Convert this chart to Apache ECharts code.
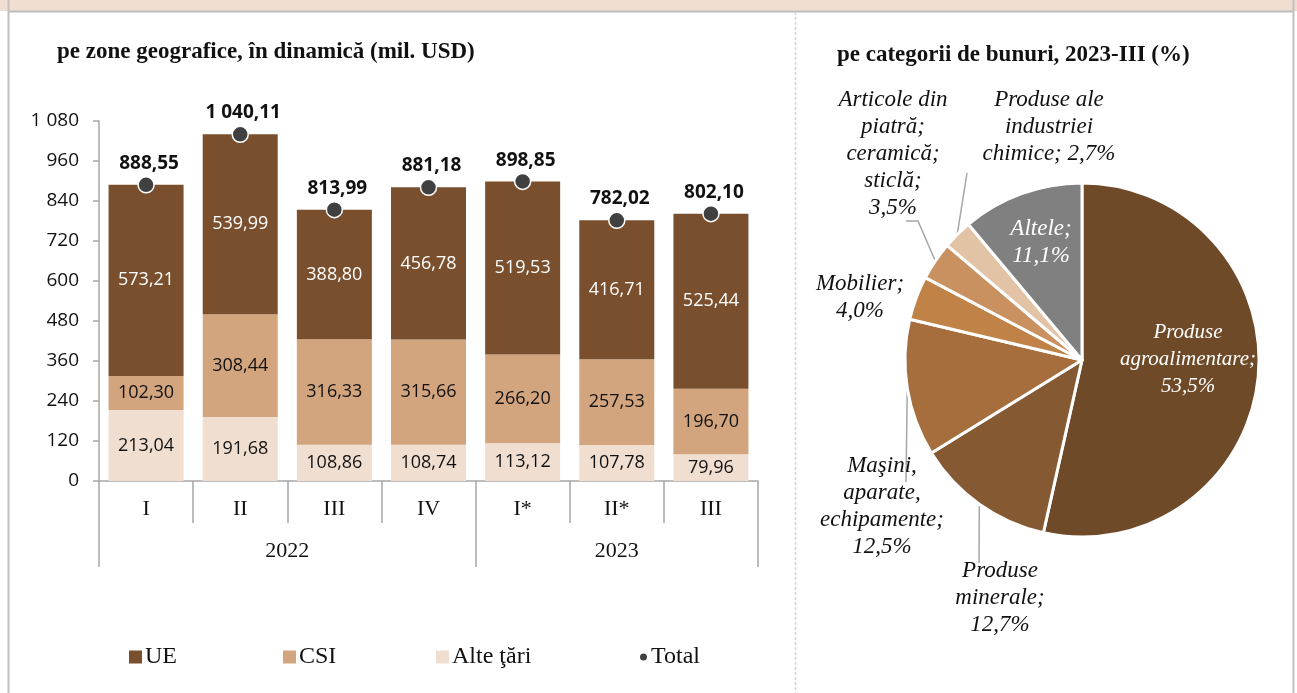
<!DOCTYPE html>
<html><head><meta charset="utf-8">
<script src="https://cdn.jsdelivr.net/npm/echarts@6/dist/echarts.min.js"></script>
<style>html,body{margin:0;padding:0;background:#fff}#c{width:1297px;height:693px}</style>
</head><body><div id="c"></div>
<script>
// ---- data ----
const categories = ['I', 'II', 'III', 'IV', 'I*', 'II*', 'III'];
const yearLabels = ['2022', '2023'];
const yearSpans = [4, 3];
const ueValues = [573.21, 539.99, 388.80, 456.78, 519.53, 416.71, 525.44];
const csiValues = [102.30, 308.44, 316.33, 315.66, 266.20, 257.53, 196.70];
const alteValues = [213.04, 191.68, 108.86, 108.74, 113.12, 107.78, 79.96];
const totalValues = [888.55, 1040.11, 813.99, 881.18, 898.85, 782.02, 802.10];
const yTicks = [0, 120, 240, 360, 480, 600, 720, 840, 960, 1080];

const pieNames = ['Produse\nagroalimentare', 'Produse\nminerale', 'Maşini,\naparate,\nechipamente', 'Mobilier', 'Articole din\npiatră;\nceramică;\nsticlă', 'Produse ale\nindustriei\nchimice', 'Altele'];
const pieValues = [53.5, 12.7, 12.5, 4.0, 3.5, 2.7, 11.1];

// ---- styles / layout ----
const barColors = { ue: '#7a4f2d', csi: '#d2a57e', alte: '#f0dfd1' };
const pieColors = ['#6e4a28', '#855a32', '#a56e3c', '#c08246', '#c8915f', '#e2c3a5', '#808080'];
const pieInside = [true, false, false, false, false, false, true];
const pieFontSize = [21, 23, 23, 23, 23, 23, 23];
const pieSep = ['\n', '\n', '\n', '\n', '\n', ' ', '\n'];
const pieLabelPos = [[1188, 359], [1000, 598], [882, 506], [860, 297], [893, 154], [1049, 127], [1041, 242]];
// leader-line bend/end points (null = no leader line)
const pieLineTail = [null, [[979, 563], [979, 563]], [[906, 482], [906, 482]], null, [[918, 221], [906, 221]], [[967, 173], [967, 173]], null];
const PIE_CENTER = [1082, 360];
const PIE_R = 177;

const SERIF = '"Liberation Serif", serif';
const NUM = '"Open Sans", sans-serif';

function fmt(v) {
  const s = v.toFixed(2).split('.');
  return s[0].replace(/\B(?=(\d{3})+(?!\d))/g, ' ') + ',' + s[1];
}
function fmtInt(v) { return String(v).replace(/\B(?=(\d{3})+(?!\d))/g, ' '); }
function fmtPct(v) { return v.toFixed(1).replace('.', ','); }

const bounds = [0];
yearSpans.forEach(s => bounds.push(bounds[bounds.length - 1] + s));
const centers = yearSpans.map((s, i) => bounds[i] + s / 2);

// mid-angle anchor on the pie edge for each slice
const pieSum = pieValues.reduce((a, b) => a + b, 0);
const pieAnchors = [];
(function () {
  let acc = 0;
  pieValues.forEach(v => {
    const mid = (acc + v / 2) / pieSum;
    const ang = (90 - mid * 360) * Math.PI / 180;
    pieAnchors.push([PIE_CENTER[0] + PIE_R * Math.cos(ang), PIE_CENTER[1] - PIE_R * Math.sin(ang)]);
    acc += v;
  });
})();

const chart = echarts.init(document.getElementById('c'), null, { renderer: 'canvas' });

const pieData = pieNames.map((n, i) => ({
  name: n, value: pieValues[i],
  itemStyle: { color: pieColors[i] },
  label: pieInside[i] ? { position: 'inside', color: '#ffffff', fontSize: pieFontSize[i] } : { position: 'outside', color: '#111', fontSize: pieFontSize[i] },
  labelLine: { show: !!pieLineTail[i] }
}));

const legendBase = (left, name, icon, w, h) => ({
  left: left, top: 645, icon: icon, itemWidth: w, itemHeight: h, itemGap: 0, padding: 0,
  data: [name], selectedMode: false,
  textStyle: { fontFamily: SERIF, fontSize: 24, color: '#111', padding: [0, 0, 0, -2] }
});

chart.setOption({
  animation: false,
  backgroundColor: '#ffffff',
  graphic: [
    { type: 'rect', shape: { x: 0, y: 0, width: 1297, height: 11 }, style: { fill: '#f0dfd0' }, silent: true },
    { type: 'line', shape: { x1: 8, y1: 11.5, x2: 1293, y2: 11.5 }, style: { stroke: '#bdbdbd', lineWidth: 2 }, silent: true },
    { type: 'line', shape: { x1: 8.5, y1: 0, x2: 8.5, y2: 693 }, style: { stroke: '#c0c0c0', lineWidth: 2 }, silent: true },
    { type: 'line', shape: { x1: 1293.5, y1: 0, x2: 1293.5, y2: 693 }, style: { stroke: '#c0c0c0', lineWidth: 2 }, silent: true },
    { type: 'line', shape: { x1: 795.5, y1: 12, x2: 795.5, y2: 693 }, style: { stroke: '#d4d4d4', lineWidth: 1.5, lineDash: [3, 2] }, silent: true }
  ],
  title: [
    { text: 'pe zone geografice, în dinamică (mil. USD)', left: 52, top: 36,
      textStyle: { fontFamily: SERIF, fontWeight: 'bold', fontSize: 23, color: '#111' } },
    { text: 'pe categorii de bunuri, 2023-III (%)', left: 832, top: 39,
      textStyle: { fontFamily: SERIF, fontWeight: 'bold', fontSize: 23, color: '#111' } }
  ],
  legend: [
    legendBase(129, 'UE', 'rect', 13, 13),
    legendBase(283, 'CSI', 'rect', 13, 13),
    legendBase(436, 'Alte ţări', 'rect', 13, 13),
    legendBase(638, 'Total', 'circle', 9, 9)
  ],
  grid: { left: 99, right: 539, top: 121, bottom: 212, containLabel: false },
  xAxis: [
    { type: 'category', data: categories, position: 'bottom',
      axisLine: { show: true, lineStyle: { color: '#a6a6a6', width: 1.5 } },
      axisTick: { show: true, interval: 0, length: 42, lineStyle: { color: '#a6a6a6', width: 1.5 } },
      axisLabel: { interval: 0, margin: 17, fontFamily: SERIF, fontSize: 22, color: '#111' } },
    { type: 'value', min: bounds[0], max: bounds[bounds.length - 1], position: 'bottom',
      axisLine: { show: false }, splitLine: { show: false },
      axisTick: { show: true, customValues: bounds, length: 86, lineStyle: { color: '#a6a6a6', width: 1.5 } },
      axisLabel: { customValues: centers, margin: 59, fontFamily: SERIF, fontSize: 22, color: '#111',
        formatter: v => { const i = centers.indexOf(v); return i >= 0 ? yearLabels[i] : ''; } } }
  ],
  yAxis: {
    type: 'value', min: yTicks[0], max: yTicks[yTicks.length - 1], interval: yTicks[1] - yTicks[0],
    axisLine: { show: true, lineStyle: { color: '#a6a6a6', width: 1.5 } },
    axisTick: { show: true, length: 6, lineStyle: { color: '#a6a6a6', width: 1.5 } },
    splitLine: { show: false },
    axisLabel: { margin: 20, fontFamily: NUM, fontSize: 19, color: '#111', formatter: v => fmtInt(v) }
  },
  series: [
    { name: 'Alte ţări', type: 'bar', stack: 's', barWidth: 75, data: alteValues,
      itemStyle: { color: barColors.alte },
      label: { show: true, position: 'inside', fontFamily: NUM, fontSize: 18, color: '#111', formatter: p => fmt(p.value) } },
    { name: 'CSI', type: 'bar', stack: 's', barWidth: 75, data: csiValues,
      itemStyle: { color: barColors.csi },
      label: { show: true, position: 'inside', fontFamily: NUM, fontSize: 18, color: '#111', formatter: p => fmt(p.value) } },
    { name: 'UE', type: 'bar', stack: 's', barWidth: 75, data: ueValues,
      itemStyle: { color: barColors.ue },
      label: { show: true, position: 'inside', fontFamily: NUM, fontSize: 18, color: '#ffffff', formatter: p => fmt(p.value) } },
    { name: 'Total', type: 'scatter', data: totalValues, symbol: 'circle', symbolSize: 16, z: 5,
      itemStyle: { color: '#404040', borderColor: '#ffffff', borderWidth: 1.5, opacity: 1 },
      label: { show: true, position: 'top', distance: 3, offset: [3, 0], fontFamily: NUM, fontWeight: 'bold', fontSize: 19, color: '#111', formatter: p => fmt(p.value) } },
    { name: 'categorii', type: 'pie', center: PIE_CENTER, radius: PIE_R, startAngle: 90, clockwise: true,
      data: pieData,
      itemStyle: { borderColor: '#ffffff', borderWidth: 3 },
      label: { fontFamily: SERIF, fontStyle: 'italic', fontSize: 23, lineHeight: 27, align: 'center',
        formatter: p => p.name + ';' + pieSep[p.dataIndex] + fmtPct(p.value) + '%' },
      labelLine: { lineStyle: { color: '#a6a6a6', width: 1.5 }, length: 10, length2: 10 },
      labelLayout: p => {
        const i = p.dataIndex;
        const o = { x: pieLabelPos[i][0], y: pieLabelPos[i][1], align: 'center', verticalAlign: 'middle' };
        if (pieLineTail[i]) o.labelLinePoints = [pieAnchors[i], pieLineTail[i][0], pieLineTail[i][1]];
        return o;
      }
    }
  ]
});
</script></body></html>
